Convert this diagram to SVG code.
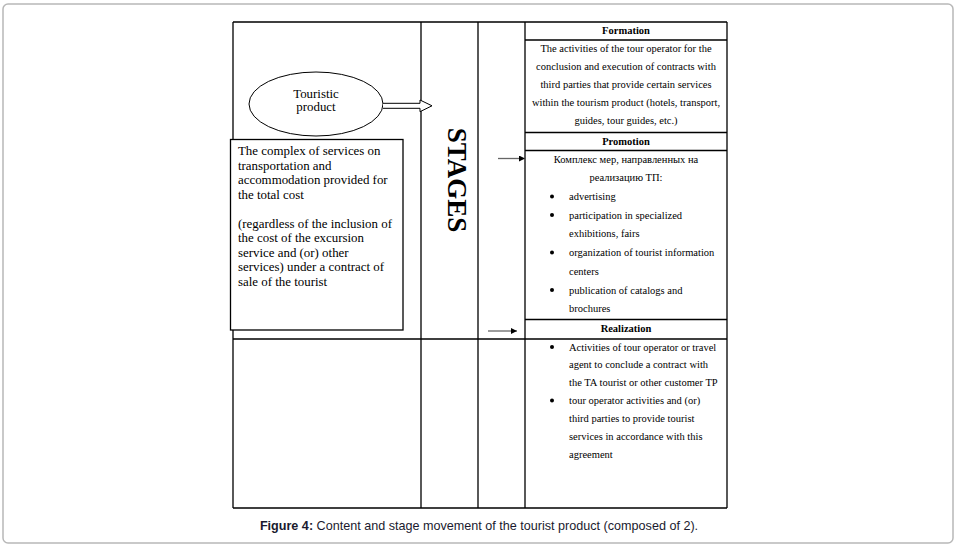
<svg xmlns="http://www.w3.org/2000/svg" width="956" height="545" viewBox="0 0 956 545">
<style>
.ln{stroke:#000;stroke-width:1.3;fill:none}
.t{font-family:"Liberation Serif","Times New Roman",serif;fill:#000}
.s11{font-size:10.5px}
.s13{font-size:12.9px}
.b{font-weight:bold}
.c{text-anchor:middle}
.cap{font-family:"Liberation Sans",Arial,sans-serif;font-size:12.6px;fill:#1a1a2e;text-anchor:middle}
</style>
<defs>
<marker id="ah" viewBox="0 0 10 10" refX="10" refY="5" markerWidth="6" markerHeight="6" markerUnits="userSpaceOnUse" orient="auto">
<path d="M0,0 L10,5 L0,10 z" fill="#000"/>
</marker>
</defs>
<rect x="3" y="4" width="950" height="539" rx="5" fill="#fff" stroke="#b8b8b8" stroke-width="1.5"/>

<g id="table">
<path class="ln" d="M233,22 H727 M233,508 H727 M233,22 V508 M421,22 V508 M478,22 V508 M525,22 V508 M727,22 V508 M233,339 H727 M525,40 H727 M525,132.5 H727 M525,150.5 H727 M525,319.5 H727"/>
</g>

<g id="touristic-product">
<ellipse cx="316" cy="104" rx="67" ry="32" fill="#fff" stroke="#000" stroke-width="1"/>
<text class="t s13 c" x="316" y="97.5">Touristic</text>
<text class="t s13 c" x="316" y="111">product</text>
</g>

<g id="definition-box">
<rect x="230.5" y="139.5" width="172.5" height="190.5" fill="#fff" stroke="#000" stroke-width="1.3"/>
<text class="t s13" x="238" y="155">The complex of services on</text>
<text class="t s13" x="238" y="169.5">transportation and</text>
<text class="t s13" x="238" y="184">accommodation provided for</text>
<text class="t s13" x="238" y="198.5">the total cost</text>
<text class="t s13" x="238" y="227.5">(regardless of the inclusion of</text>
<text class="t s13" x="238" y="242">the cost of the excursion</text>
<text class="t s13" x="238" y="256.5">service and (or) other</text>
<text class="t s13" x="238" y="271">services) under a contract of</text>
<text class="t s13" x="238" y="285.5">sale of the tourist</text>
</g>

<g id="stages">
<text class="t b c" font-size="27" transform="translate(448,180) rotate(90)">STAGES</text>
</g>

<g id="formation">
<text class="t s11 b c" x="626" y="33.5">Formation</text>
<text class="t s11 c" x="626" y="51.5">The activities of the tour operator for the</text>
<text class="t s11 c" x="626" y="69.5">conclusion and execution of contracts with</text>
<text class="t s11 c" x="626" y="87.5">third parties that provide certain services</text>
<text class="t s11 c" x="626" y="105.5">within the tourism product (hotels, transport,</text>
<text class="t s11 c" x="626" y="123.5">guides, tour guides, etc.)</text>
</g>

<g id="promotion">
<text class="t s11 b c" x="626" y="145">Promotion</text>
<text class="t s11 c" x="626" y="163">Комплекс мер, направленных на</text>
<text class="t s11 c" x="626" y="181">реализацию ТП:</text>
<circle cx="552" cy="196.5" r="2"/>
<text class="t s11" x="569" y="200">advertising</text>
<circle cx="552" cy="215" r="2"/>
<text class="t s11" x="569" y="218.5">participation in specialized</text>
<text class="t s11" x="569" y="237">exhibitions, fairs</text>
<circle cx="552" cy="252.5" r="2"/>
<text class="t s11" x="569" y="256">organization of tourist information</text>
<text class="t s11" x="569" y="274.5">centers</text>
<circle cx="552" cy="290" r="2"/>
<text class="t s11" x="569" y="293.5">publication of catalogs and</text>
<text class="t s11" x="569" y="312">brochures</text>
</g>

<g id="realization">
<text class="t s11 b c" x="626" y="332">Realization</text>
<circle cx="552" cy="347" r="2"/>
<text class="t s11" x="569" y="350.5">Activities of tour operator or travel</text>
<text class="t s11" x="569" y="368">agent to conclude a contract with</text>
<text class="t s11" x="569" y="385.5">the TA tourist or other customer TP</text>
<circle cx="552" cy="400.5" r="2"/>
<text class="t s11" x="569" y="404">tour operator activities and (or)</text>
<text class="t s11" x="569" y="422">third parties to provide tourist</text>
<text class="t s11" x="569" y="440">services in accordance with this</text>
<text class="t s11" x="569" y="458">agreement</text>
</g>

<g id="connectors">
<path d="M383,103.3 H420 V100 L432,105.8 L420,111.7 V108.3 H383" fill="#fff" stroke="#000" stroke-width="1"/>
<line x1="498" y1="158.5" x2="525" y2="158.5" stroke="#666" stroke-width="1.3" marker-end="url(#ah)"/>
<line x1="488" y1="331" x2="517" y2="331" stroke="#666" stroke-width="1.3" marker-end="url(#ah)"/>
</g>

<text class="cap" x="479" y="530"><tspan font-weight="bold">Figure 4:</tspan> Content and stage movement of the tourist product (composed of 2).</text>
</svg>
